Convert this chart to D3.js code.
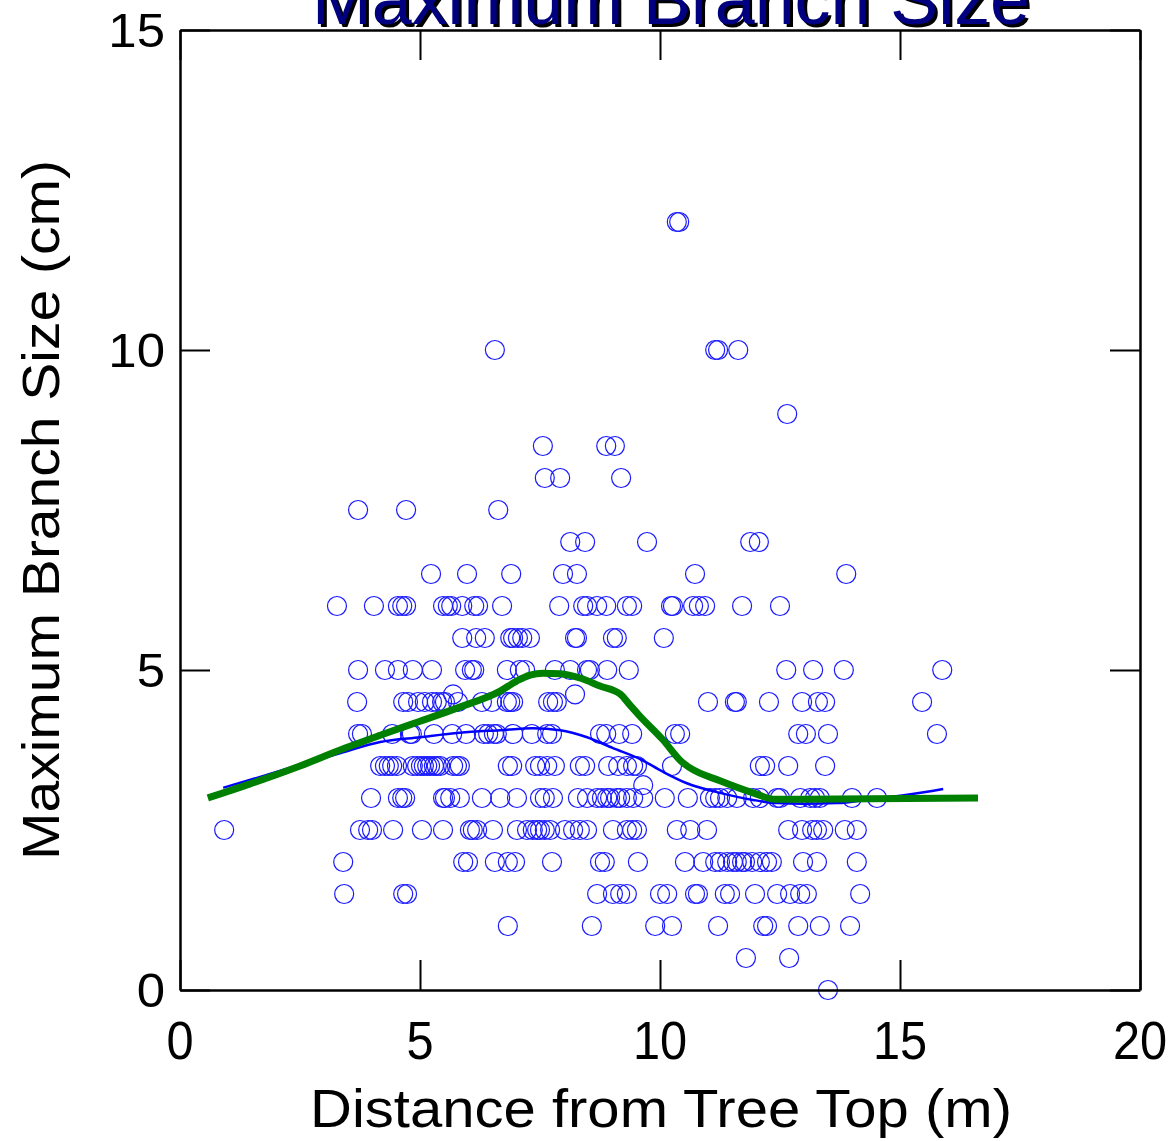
<!DOCTYPE html>
<html>
<head>
<meta charset="utf-8">
<script src="https://cdn.jsdelivr.net/npm/d3@7/dist/d3.min.js"></script>
<style>
html,body{margin:0;padding:0;background:#fff;}
svg{display:block;}
text{font-family:"Liberation Sans", Arial, Helvetica, sans-serif;}
</style>
</head>
<body>
<svg id="chart" width="1175" height="1141"></svg>
<script>
// ---- Data ----
const chartTitle = "Maximum Branch Size";
const xTitle = "Distance from Tree Top (m)";
const yTitle = "Maximum Branch Size (cm)";
const xTicks = [0, 5, 10, 15, 20];
const yTicks = [0, 5, 10, 15];

// Branch size levels (cm) and the distances (m) of observations at each level
const sizeLevels = [12, 10, 9, 8.5, 8, 7.5, 7, 6.5, 6, 5.5, 5, 4.62, 4.5, 4, 3.5, 3.2, 3, 2.5, 2, 1.5, 1, 0.5, 0];
const distByLevel = [
  [10.35, 10.40],
  [6.56, 11.15, 11.21, 11.63],
  [12.65],
  [7.56, 8.88, 9.06],
  [7.60, 7.92, 9.19],
  [3.71, 4.71, 6.63],
  [8.13, 8.44, 9.73, 11.88, 12.06],
  [5.23, 5.98, 6.90, 7.98, 8.27, 10.73, 13.88],
  [3.27, 4.04, 4.54, 4.63, 4.71, 5.48, 5.58, 5.65, 5.88, 6.13, 6.21, 6.71, 7.90, 8.40, 8.48, 8.69, 8.88, 9.31, 9.42, 10.23, 10.27, 10.69, 10.81, 10.94, 11.71, 12.50],
  [5.88, 6.17, 6.35, 6.88, 6.94, 7.04, 7.13, 7.29, 8.23, 8.27, 9.02, 9.10, 10.08],
  [3.71, 4.27, 4.54, 4.85, 5.25, 5.94, 6.08, 6.13, 6.81, 7.08, 7.19, 7.81, 8.13, 8.48, 8.54, 8.90, 9.35, 12.63, 13.19, 13.83, 15.88],
  [5.69, 8.23],
  [3.69, 4.65, 4.75, 4.96, 5.10, 5.25, 5.35, 5.46, 5.52, 5.79, 6.29, 6.50, 6.81, 6.88, 6.94, 7.67, 7.77, 7.85, 11.00, 11.56, 11.60, 12.27, 12.96, 13.29, 13.44, 15.46],
  [3.71, 3.79, 4.42, 4.79, 4.83, 5.29, 5.67, 5.96, 6.33, 6.42, 6.54, 6.60, 6.94, 7.33, 7.65, 7.75, 8.75, 8.88, 9.15, 9.42, 10.31, 10.42, 12.88, 13.04, 13.50, 15.77],
  [4.17, 4.27, 4.35, 4.42, 4.52, 4.85, 4.94, 5.02, 5.08, 5.15, 5.21, 5.29, 5.35, 5.42, 5.69, 5.77, 5.83, 6.83, 6.92, 7.40, 7.50, 7.65, 7.81, 8.33, 8.44, 8.92, 9.13, 9.31, 9.44, 9.52, 10.25, 12.08, 12.19, 12.67, 13.44],
  [9.65],
  [3.98, 4.54, 4.63, 4.69, 5.48, 5.52, 5.63, 5.83, 6.29, 6.67, 7.02, 7.50, 7.60, 7.77, 8.29, 8.48, 8.69, 8.79, 8.90, 8.96, 9.10, 9.17, 9.31, 9.44, 9.65, 10.10, 10.58, 11.04, 11.15, 11.25, 11.40, 11.60, 11.94, 12.08, 12.44, 12.50, 12.92, 13.13, 13.23, 13.33, 14.00, 14.52],
  [0.92, 3.75, 3.92, 4.00, 4.44, 5.04, 5.48, 6.04, 6.10, 6.19, 6.52, 7.02, 7.23, 7.35, 7.44, 7.50, 7.60, 7.71, 8.02, 8.19, 8.33, 8.48, 9.02, 9.31, 9.42, 9.52, 10.35, 10.63, 10.98, 12.67, 12.96, 13.17, 13.27, 13.40, 13.85, 14.10],
  [3.40, 5.90, 6.00, 6.56, 6.83, 6.98, 7.75, 8.75, 8.85, 9.54, 10.52, 10.90, 11.15, 11.25, 11.40, 11.52, 11.60, 11.71, 11.77, 11.92, 12.08, 12.23, 12.33, 12.98, 13.27, 14.10],
  [3.42, 4.65, 4.73, 8.69, 9.02, 9.17, 9.31, 10.00, 10.15, 10.73, 10.79, 11.35, 11.46, 11.98, 12.44, 12.71, 12.92, 13.06, 14.17],
  [6.83, 8.58, 9.90, 10.25, 11.21, 12.15, 12.23, 12.88, 13.33, 13.96],
  [11.79, 12.69],
  [13.50]
];

// Smooth fit (thin blue line)
const fitBlueX = [0.90, 1.67, 2.50, 3.33, 4.17, 5.00, 5.83, 6.67, 7.35, 7.92, 8.48, 9.02, 9.58, 10.06, 10.56, 11.25, 11.94, 12.44, 12.98, 13.69, 14.38, 15.15, 15.90];
const fitBlueY = [3.16, 3.33, 3.52, 3.70, 3.875, 3.95, 4.02, 4.06, 4.09, 4.06, 3.95, 3.78, 3.61, 3.41, 3.23, 3.08, 2.97, 2.92, 2.91, 2.92, 2.98, 3.05, 3.14];

// Smooth fit (thick green line)
const fitGreenX = [0.58, 1.46, 2.50, 3.44, 4.17, 5.00, 5.83, 6.67, 7.02, 7.29, 7.56, 7.92, 8.33, 8.75, 9.17, 9.375, 9.58, 10.06, 10.46, 10.625, 11.25, 11.94, 12.40, 12.92, 16.625];
const fitGreenY = [3.00, 3.22, 3.50, 3.78, 3.98, 4.20, 4.42, 4.67, 4.83, 4.92, 4.95, 4.94, 4.875, 4.75, 4.625, 4.45, 4.28, 3.91, 3.56, 3.47, 3.27, 3.08, 2.98, 2.98, 3.00];

// ---- Chart ----
const svg = d3.select("#chart");
const plotL = 180, plotR = 1140, plotT = 30, plotB = 990;
const x = d3.scaleLinear().domain([0, 20]).range([plotL, plotR]);
const y = d3.scaleLinear().domain([0, 15]).range([plotB, plotT]);

const points = [];
sizeLevels.forEach((lv, i) => distByLevel[i].forEach(d => points.push({d: d, s: lv})));

// Scatter
svg.append("g").selectAll("circle").data(points).join("circle")
  .attr("cx", p => x(p.d)).attr("cy", p => y(p.s)).attr("r", 9.5)
  .attr("fill", "none").attr("stroke", "#1a1aff").attr("stroke-width", 1.2);

// Lines
const line = d3.line().curve(d3.curveMonotoneX);
svg.append("path")
  .attr("d", line(fitBlueX.map((v, i) => [x(v), y(fitBlueY[i])])))
  .attr("fill", "none").attr("stroke", "#0000ff").attr("stroke-width", 2.5);
svg.append("path")
  .attr("d", line(fitGreenX.map((v, i) => [x(v), y(fitGreenY[i])])))
  .attr("fill", "none").attr("stroke", "#008000").attr("stroke-width", 7).attr("stroke-linejoin", "round");

// Axes (ticks inward, on all four sides)
const tl = 30;
const axB = d3.axisBottom(x).tickValues(xTicks).tickSizeInner(-tl).tickSizeOuter(0).tickFormat("");
const axT = d3.axisTop(x).tickValues(xTicks).tickSizeInner(-tl).tickSizeOuter(0).tickFormat("");
const axL = d3.axisLeft(y).tickValues(yTicks).tickSizeInner(-tl).tickSizeOuter(0).tickFormat("");
const axR = d3.axisRight(y).tickValues(yTicks).tickSizeInner(-tl).tickSizeOuter(0).tickFormat("");
[[axB, `translate(0,${plotB})`], [axT, `translate(0,${plotT})`], [axL, `translate(${plotL},0)`], [axR, `translate(${plotR},0)`]]
  .forEach(([ax, tr]) => {
    const g = svg.append("g").attr("transform", tr).call(ax);
    g.selectAll("line").attr("stroke", "#000").attr("stroke-width", 2);
    g.select(".domain").attr("stroke", "#000").attr("stroke-width", 2.5);
  });

// Tick labels
svg.append("g").selectAll("text").data(xTicks).join("text")
  .attr("transform", d => `translate(${x(d)},1059) scale(0.92,1)`)
  .attr("text-anchor", "middle").attr("font-size", 53).attr("fill", "#000")
  .text(d => d);
svg.append("g").selectAll("text").data(yTicks).join("text")
  .attr("transform", d => `translate(165,${y(d) + 17}) scale(1.04,1)`)
  .attr("text-anchor", "end").attr("font-size", 49).attr("fill", "#000")
  .text(d => d);

// Axis titles
svg.append("text").attr("x", 310).attr("y", 1127)
  .attr("font-size", 54).attr("textLength", 702).attr("lengthAdjust", "spacingAndGlyphs")
  .attr("fill", "#000").text(xTitle);
svg.append("text").attr("transform", "translate(59,860) rotate(-90)")
  .attr("font-size", 52).attr("textLength", 700).attr("lengthAdjust", "spacingAndGlyphs")
  .attr("fill", "#000").text(yTitle);

// Title with shadow (partly above the top edge, as in the original)
svg.append("text").attr("x", 315).attr("y", 27)
  .attr("font-size", 72).attr("textLength", 718).attr("lengthAdjust", "spacingAndGlyphs")
  .attr("fill", "#000").text(chartTitle);
svg.append("text").attr("x", 312).attr("y", 24)
  .attr("font-size", 72).attr("textLength", 718).attr("lengthAdjust", "spacingAndGlyphs")
  .attr("fill", "#000080").text(chartTitle);
</script>
</body>
</html>
